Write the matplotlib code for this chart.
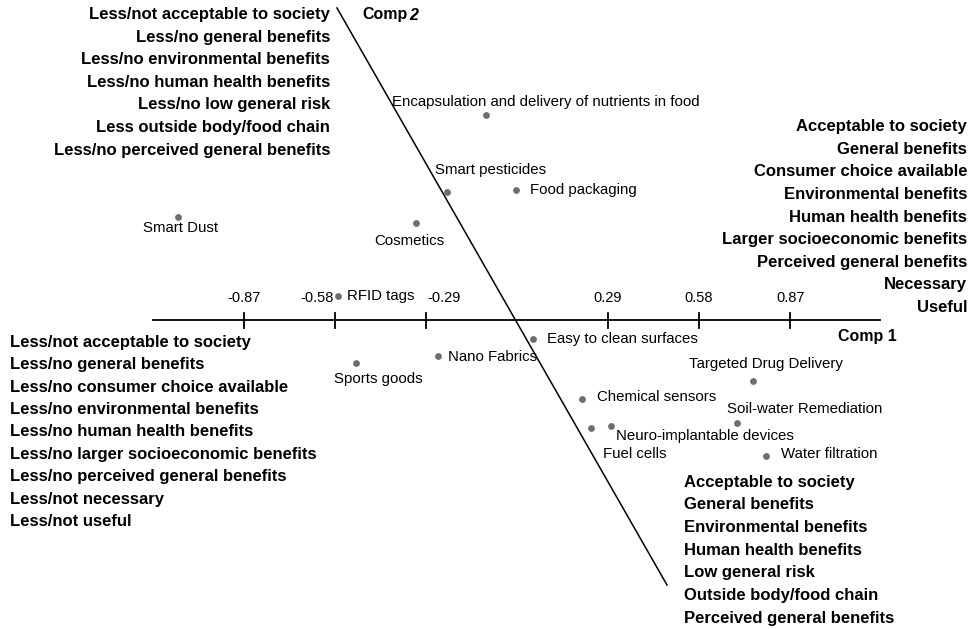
import matplotlib
matplotlib.use("Agg")
import matplotlib.pyplot as plt

plt.rcParams['font.family'] = ['Liberation Sans', 'DejaVu Sans']

# --- data (Comp 1 / Comp 2 scores) ---
items = ["Encapsulation and delivery of nutrients in food", "Smart pesticides", "Food packaging",
         "Smart Dust", "Cosmetics", "RFID tags", "Easy to clean surfaces", "Nano Fabrics",
         "Sports goods", "Targeted Drug Delivery", "Chemical sensors", "Soil-water Remediation",
         "Fuel cells", "Neuro-implantable devices", "Water filtration"]
comp1 = [-0.099, -0.223, -0.003, -1.080, -0.322, -0.570, 0.051, -0.252,
         -0.513, 0.752, 0.207, 0.701, 0.236, 0.299, 0.793]
comp2 = [0.653, 0.408, 0.414, 0.328, 0.309, 0.076, -0.061, -0.115,
         -0.137, -0.194, -0.252, -0.327, -0.344, -0.338, -0.433]
tick_vals = [-0.87, -0.58, -0.29, 0.29, 0.58, 0.87]
tick_labels = ["-0.87", "-0.58", "-0.29", "0.29", "0.58", "0.87"]

top_left = ["Less/not acceptable to society", "Less/no general benefits",
            "Less/no environmental benefits", "Less/no human health benefits",
            "Less/no low general risk", "Less outside body/food chain",
            "Less/no perceived general benefits"]
right_top = ["Acceptable to society", "General benefits", "Consumer choice available",
             "Environmental benefits", "Human health benefits",
             "Larger socioeconomic benefits", "Perceived general benefits",
             "Necessary", "Useful"]
left_bottom = ["Less/not acceptable to society", "Less/no general benefits",
               "Less/no consumer choice available", "Less/no environmental benefits",
               "Less/no human health benefits", "Less/no larger socioeconomic benefits",
               "Less/no perceived general benefits", "Less/not necessary", "Less/not useful"]
bottom_right = ["Acceptable to society", "General benefits", "Environmental benefits",
                "Human health benefits", "Low general risk", "Outside body/food chain",
                "Perceived general benefits"]

# --- layout ---
W, H = 972, 629
X0, Y0, S = 517, 320, 314.0  # pixel origin and pixels per unit
FS = 10.8   # item labels
FB = 12.0   # bold blocks

def px(x, y):
    return (x - X0) / S, (Y0 - y) / S

fig = plt.figure(figsize=(W / 100, H / 100), dpi=100)
ax = fig.add_axes([0, 0, 1, 1])
ax.set_xlim(-X0 / S, (W - X0) / S)
ax.set_ylim((Y0 - H) / S, Y0 / S)
ax.axis('off')

# Comp 1 axis
xa, _ = px(153, 0)
xb, _ = px(880, 0)
ax.plot([xa, xb], [0, 0], color='black', lw=1.3)
tick_h = 7.5 / S
label_shift = [0, -18, 18, 0, 0, 0]  # pixel shifts of tick labels
for v, lab, sh in zip(tick_vals, tick_labels, label_shift):
    ax.plot([v, v], [-tick_h, tick_h], color='black', lw=1.3)
    ax.text(v + sh / S, 22 / S, lab, ha='center', va='center', fontsize=10.5)

# Comp 2 axis (oblique)
p1 = px(337, 8)
p2 = px(667, 585)
ax.plot([p1[0], p2[0]], [p1[1], p2[1]], color='black', lw=1.1)

ax.text(*px(838, 337), "Comp 1", ha='left', va='center', fontsize=11.5, fontweight='bold')
ax.text(*px(362, 15), "Comp", ha='left', va='center', fontsize=11.5, fontweight='bold')
ax.text(*px(409, 15), "2", ha='left', va='center', fontsize=11.5, fontweight='bold', style='italic')

# points
ax.scatter(comp1, comp2, s=24, color='#6e6e6e', zorder=3, linewidths=0)

# label offsets in pixels (dx, dy), alignment
offsets = {
    "Encapsulation and delivery of nutrients in food": (60, 13, 'center'),
    "Smart pesticides": (-12, 22, 'left'),
    "Food packaging": (14, 0, 'left'),
    "Smart Dust": (3, -11, 'center'),
    "Cosmetics": (-7, -18, 'center'),
    "RFID tags": (9, 0, 'left'),
    "Easy to clean surfaces": (14, 0, 'left'),
    "Nano Fabrics": (10, -1, 'left'),
    "Sports goods": (22, -16, 'center'),
    "Targeted Drug Delivery": (13, 17, 'center'),
    "Chemical sensors": (15, 2, 'left'),
    "Soil-water Remediation": (-10, 14, 'left'),
    "Fuel cells": (12, -26, 'left'),
    "Neuro-implantable devices": (5, -10, 'left'),
    "Water filtration": (15, 2, 'left'),
}
for name, x, y in zip(items, comp1, comp2):
    dx, dy, ha = offsets[name]
    ax.annotate(name, (x, y), xytext=(dx, dy), textcoords='offset pixels',
                ha=ha, va='center', fontsize=FS)

def block(lines, x, y_start, step, ha):
    for i, t in enumerate(lines):
        ax.text(*px(x, y_start + i * step), t, ha=ha, va='center',
                fontsize=FB, fontweight='bold')

block(top_left, 330, 15, 22.5, 'right')
block(right_top, 967, 127, 22.5, 'right')
block(left_bottom, 10, 342, 22.5, 'left')
block(bottom_right, 684, 482, 22.7, 'left')

fig.savefig("out.png", dpi=100)
